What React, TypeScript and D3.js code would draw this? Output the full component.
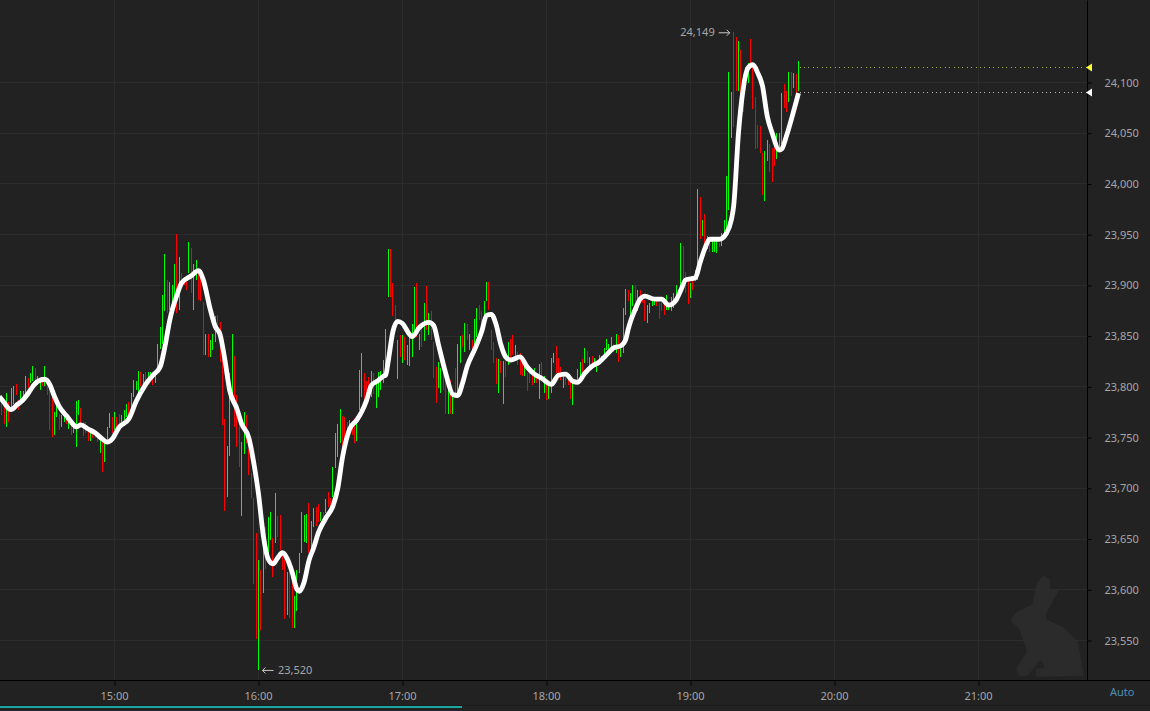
import { useEffect, useRef } from 'react';
import * as d3 from 'd3';

const width = 1150;
const height = 711;

// one bar per minute, starting at 14:12
const highs = [
  23790,23790,23785,23793,23785,23798,23800,23802,23787,23795,
  23795,23810,23808,23813,23820,23818,23810,23808,23808,23820,
  23803,23800,23796,23775,23783,23773,23772,23770,23768,23765,
  23763,23763,23786,23787,23779,23765,23765,23760,23757,23757,
  23752,23750,23749,23747,23744,23760,23774,23770,23775,23770,
  23773,23772,23777,23783,23785,23793,23806,23805,23815,23814,
  23812,23814,23814,23814,23810,23813,23842,23859,23890,23930,
  23905,23903,23900,23921,23950,23928,23912,23905,23905,23942,
  23936,23921,23925,23915,23915,23883,23852,23852,23846,23852,
  23869,23870,23863,23826,23768,23741,23813,23852,23830,23791,
  23764,23745,23775,23772,23738,23715,23690,23655,23629,23619,
  23661,23661,23671,23676,23651,23695,23672,23673,23634,23629,
  23617,23622,23606,23593,23619,23636,23676,23673,23674,23685,
  23667,23680,23681,23684,23676,23676,23689,23696,23690,23721,
  23754,23763,23778,23771,23770,23765,23767,23764,23769,23764,
  23816,23833,23813,23805,23809,23815,23813,23805,23814,23815,
  23826,23857,23935,23935,23902,23880,23846,23851,23851,23849,
  23841,23849,23861,23898,23902,23852,23862,23882,23899,23872,
  23874,23844,23819,23824,23818,23813,23810,23800,23806,23793,
  23818,23842,23850,23851,23862,23861,23852,23846,23866,23877,
  23880,23874,23884,23903,23903,23856,23844,23828,23827,23825,
  23825,23826,23844,23847,23851,23841,23834,23833,23829,23821,
  23813,23814,23814,23818,23811,23822,23824,23810,23806,23803,
  23828,23833,23840,23828,23819,23810,23811,23811,23805,23803,
  23805,23817,23824,23827,23838,23835,23829,23830,23828,23821,
  23831,23830,23838,23847,23842,23849,23842,23852,23851,23842,
  23877,23896,23895,23892,23900,23900,23895,23895,23890,23885,
  23880,23882,23888,23887,23885,23882,23885,23882,23890,23882,
  23888,23892,23900,23895,23941,23938,23913,23905,23902,23907,
  23915,23995,23987,23964,23970,23948,23946,23946,23943,23945,
  23941,23951,23964,24007,24110,24090,24149,24144,24140,24132,
  24108,24115,24119,24142,24119,24085,24058,24057,24030,24032,
  24043,24039,24035,24039,24050,24050,24089,24098,24091,24110,
  24110,24109,24108,24121,
];

const lows = [
  23780,23772,23763,23760,23765,23778,23783,23791,23777,23787,
  23787,23793,23798,23803,23805,23803,23801,23796,23800,23800,
  23791,23757,23750,23752,23770,23757,23760,23765,23763,23758,
  23752,23754,23740,23772,23760,23751,23754,23746,23746,23749,
  23749,23745,23734,23716,23725,23744,23759,23754,23757,23759,
  23760,23760,23767,23770,23772,23780,23790,23796,23793,23800,
  23800,23801,23806,23806,23801,23803,23816,23837,23842,23874,
  23872,23875,23875,23879,23872,23875,23898,23900,23895,23912,
  23892,23875,23905,23885,23884,23831,23831,23829,23829,23836,
  23844,23856,23824,23762,23677,23691,23731,23783,23760,23740,
  23721,23672,23733,23744,23713,23690,23605,23551,23520,23560,
  23596,23620,23632,23649,23612,23646,23652,23639,23619,23571,
  23575,23572,23562,23562,23579,23616,23636,23647,23646,23636,
  23639,23661,23662,23666,23667,23671,23675,23681,23683,23691,
  23720,23730,23744,23738,23750,23750,23754,23752,23744,23746,
  23777,23790,23787,23784,23794,23790,23792,23779,23790,23796,
  23803,23816,23888,23888,23869,23856,23807,23829,23823,23826,
  23821,23820,23829,23849,23849,23836,23839,23845,23856,23851,
  23846,23808,23784,23798,23793,23796,23773,23773,23773,23773,
  23790,23790,23823,23839,23834,23846,23836,23829,23842,23849,
  23865,23852,23862,23884,23875,23836,23823,23802,23793,23813,
  23783,23809,23821,23826,23831,23828,23821,23811,23810,23810,
  23795,23803,23801,23803,23803,23788,23805,23793,23787,23788,
  23793,23823,23813,23813,23806,23798,23801,23801,23788,23782,
  23803,23803,23806,23814,23823,23823,23816,23819,23821,23814,
  23821,23824,23826,23836,23834,23836,23834,23833,23824,23829,
  23833,23870,23884,23865,23879,23880,23874,23882,23882,23864,
  23862,23872,23879,23880,23879,23866,23874,23870,23875,23875,
  23874,23877,23885,23888,23899,23902,23892,23881,23887,23895,
  23904,23905,23945,23948,23938,23935,23932,23932,23932,23931,
  23937,23938,23948,23951,23974,24045,24056,24091,24091,24068,
  24070,24096,24099,24117,24073,24034,24035,24030,23989,23983,
  24022,24011,24001,24017,24024,24034,24039,24074,24070,24080,
  24086,24094,24073,24091,
];

const sides = [
  'rrrgrggrrg', 'ggrggrggrg', 'rrrggrggrg', 'rgggrrrrgr', 'rrgrgggrgr',
  'rgggrggggr', 'grggrggggg', 'rgggrgrrrg', 'rggrrrgrgg', 'grrrrgggrr',
  'rggrrrrrgr', 'grggrgrrrr', 'grrggggggr', 'ggrrgrgrrg', 'gggrrrgrrg',
  'ggrrrgrggg', 'gggrrrgrgr', 'ggggrgrgrg', 'rrrggrrgrg', 'rggrgrgrgg',
  'rrggrrrrgr', 'grgrrgrrrg', 'rrrgrgrgrg', 'ggrrrgrrrg', 'gggrgrgrgg',
  'ggggggrgrg', 'ggrggrgrrr', 'ggggrrrrgg', 'gggggrrrgr', 'ggrgrgrggg',
  'rgggggrrgr', 'rggrrrrrrg', 'grrrgggrrg', 'rgrg',
].join('');

// moving average, read at the bends of the white line (bar number, value)
const maBars = [
  0,2,4,5,7,10,12,14,16,19,21,23,25,28,31,32,34,37,40,43,45,47,50,54,57,61,64,67,69,71,
  74,76,80,83,85,88,90,92,94,96,99,101,104,106,108,110,112,114,116,118,120,122,124,125,
  127,129,131,133,136,139,141,143,146,149,151,153,155,158,160,161,162,164,166,168,171,
  172,175,179,181,183,186,189,191,193,195,198,201,203,205,207,209,211,213,217,220,223,
  226,230,233,236,239,241,244,247,250,253,256,259,261,262,263,265,267,269,273,276,279,
  282,284,286,290,292,294,296,300,303,305,306,308,310,312,314,316,318,320,322,325,326,
  328,330,333,
];

const maValues = [
  23790,23784,23778,23777,23781,23787,23793,23800,23805,23807,23802,23790,23780,23771,23762,23760,23762,23758,23754,23748,23745,23748,23760,23768,23785,23802,23811,23819,23839,23865,
  23890,23902,23909,23914,23905,23875,23859,23851,23826,23796,23778,23763,23749,23725,23694,23653,23630,23625,23631,23636,23630,23617,23600,23598,
  23607,23628,23641,23656,23670,23682,23699,23730,23758,23767,23775,23786,23801,23806,23810,23811,23824,23854,23864,23862,23851,
  23849,23858,23863,23860,23841,23813,23792,23791,23803,23820,23836,23854,23870,23871,23861,23841,23829,23826,23829,23819,23812,
  23808,23802,23811,23812,23805,23804,23813,23820,23824,23831,23838,23840,23846,23856,23864,23876,23886,23889,23886,23886,23880,
  23885,23895,23905,23907,23922,23936,23945,23945,23951,23964,23978,24050,24094,24114,24117,24109,24096,24066,24050,24033,24034,
  24047,24063,24089,
];

const priceTicks = [23550, 23600, 23650, 23700, 23750, 23800, 23850, 23900, 23950, 24000, 24050, 24100];
const hourTicks = [15, 16, 17, 18, 19, 20, 21];

const highLabel = '24,149';
const lowLabel = '23,520';
const bidPrice = 24115;
const lastPrice = 24090;
const highBar = 306;
const lowBar = 108;

const plotRight = 1087;
const plotBottom = 680;

const rabbit = 'M130,50 L147,60 L147,90 L172,93 L135,160 L135,180 L190,205 L230,245 L243,315 L247,345 L112,347 L110,330 L140,325 L122,295 L80,345 L60,345 L52,325 L85,275 L60,205 L35,182 L50,160 L100,135 L112,75 Z';

const barTime = (i: number) => new Date(Date.UTC(2024, 0, 2, 14, 12 + i));

export default function App() {
  const svgRef = useRef<SVGSVGElement>(null);

  useEffect(() => {
    if (!svgRef.current) return;
    const svg = d3.select(svgRef.current);
    svg.selectAll('*').remove();

    const font = '"Noto Sans", sans-serif';
    const labelColor = '#a6a6a6';

    const xScale = d3.scaleUtc()
      .domain([new Date(Date.UTC(2024, 0, 2, 15)), new Date(Date.UTC(2024, 0, 2, 16))])
      .range([114.5, 258.5]);

    const yScale = d3.scaleLinear()
      .domain([23550, 24100])
      .range([640, 82]);

    svg.append('rect')
      .attr('width', width)
      .attr('height', height)
      .attr('fill', '#222222');

    // rabbit watermark
    svg.append('path')
      .attr('d', rabbit)
      .attr('transform', 'translate(1000,560) scale(0.3333)')
      .attr('fill', '#2b2b2b')
      .attr('stroke', '#2b2b2b')
      .attr('stroke-width', 6)
      .attr('stroke-linejoin', 'round');

    // grid
    const hours = hourTicks.map(h => new Date(Date.UTC(2024, 0, 2, h)));
    svg.append('g')
      .selectAll('line')
      .data(priceTicks)
      .join('line')
      .attr('x1', 0)
      .attr('x2', plotRight)
      .attr('y1', d => Math.round(yScale(d)) + 0.5)
      .attr('y2', d => Math.round(yScale(d)) + 0.5)
      .attr('stroke', '#2c2c2c');

    svg.append('g')
      .selectAll('line')
      .data(hours)
      .join('line')
      .attr('x1', d => Math.floor(xScale(d)) + 0.5)
      .attr('x2', d => Math.floor(xScale(d)) + 0.5)
      .attr('y1', 0)
      .attr('y2', plotBottom)
      .attr('stroke', '#2c2c2c');

    // bars
    svg.append('g')
      .attr('shape-rendering', 'crispEdges')
      .selectAll('line')
      .data(highs)
      .join('line')
      .attr('x1', (_, i) => Math.floor(xScale(barTime(i))) + 0.5)
      .attr('x2', (_, i) => Math.floor(xScale(barTime(i))) + 0.5)
      .attr('y1', d => yScale(d))
      .attr('y2', (_, i) => yScale(lows[i]))
      .attr('stroke', (_, i) => sides[i] === 'g' ? '#00ff00' : '#ff0000')
      .attr('stroke-width', 1);

    // moving average
    const maLine = d3.line<number>()
      .x(d => xScale(barTime(d)))
      .y((_, i) => yScale(maValues[i]))
      .curve(d3.curveMonotoneX);

    svg.append('path')
      .attr('d', maLine(maBars))
      .attr('fill', 'none')
      .attr('stroke', '#ffffff')
      .attr('stroke-width', 4.8)
      .attr('stroke-linejoin', 'round');

    // axes
    const xAxis = d3.axisBottom(xScale)
      .tickValues(hours)
      .tickSize(5)
      .tickPadding(7)
      .tickFormat(d => d3.utcFormat('%H:%M')(d as Date));

    svg.append('g')
      .attr('transform', `translate(0,${plotBottom + 0.5})`)
      .call(xAxis)
      .call(g => g.select('.domain').attr('d', `M0,0H${width}`).attr('stroke', '#000'))
      .call(g => g.selectAll('.tick line').attr('stroke', '#000'))
      .call(g => g.selectAll('.tick text')
        .attr('dx', -0.5)
        .attr('fill', labelColor)
        .attr('font-family', font)
        .attr('font-size', '11px'));

    const yAxis = d3.axisRight(yScale)
      .tickValues(priceTicks)
      .tickSize(4)
      .tickPadding(13)
      .tickFormat(d3.format(','));

    svg.append('g')
      .attr('transform', `translate(${plotRight + 0.5},0.5)`)
      .call(yAxis)
      .call(g => g.select('.domain').attr('d', `M0,0V${plotBottom}`).attr('stroke', '#000'))
      .call(g => g.selectAll('.tick line').attr('stroke', '#000'))
      .call(g => g.selectAll('.tick text')
        .attr('fill', labelColor)
        .attr('font-family', font)
        .attr('font-size', '11px'));

    // price levels
    const lastX = xScale(barTime(highs.length - 1));
    const levels = [
      { price: bidPrice, fill: '#ffff33', dash: '#a9a94e' },
      { price: lastPrice, fill: '#ffffff', dash: '#b4b4b4' },
    ];
    levels.forEach(level => {
      const y = Math.round(yScale(level.price)) + 0.5;
      svg.append('line')
        .attr('x1', lastX + 1)
        .attr('x2', plotRight)
        .attr('y1', y)
        .attr('y2', y)
        .attr('stroke', level.dash)
        .attr('stroke-dasharray', '1,3.4')
        .attr('shape-rendering', 'crispEdges');
      svg.append('path')
        .attr('d', `M${plotRight + 5},${y - 4} L${plotRight + 5},${y + 4} L${plotRight - 1},${y} Z`)
        .attr('fill', level.fill);
    });

    // high / low markers
    const highX = xScale(barTime(highBar));
    const highY = yScale(highs[highBar]);
    svg.append('text')
      .attr('x', highX - 19)
      .attr('y', highY + 4)
      .attr('text-anchor', 'end')
      .attr('fill', labelColor)
      .attr('font-family', font)
      .attr('font-size', '11px')
      .text(highLabel);
    svg.append('path')
      .attr('d', `M${highX - 15},${highY + 0.5} h11 m-3,-3 l3,3 l-3,3`)
      .attr('fill', 'none')
      .attr('stroke', '#c8c8c8');

    const lowX = xScale(barTime(lowBar));
    const lowY = yScale(lows[lowBar]);
    svg.append('text')
      .attr('x', lowX + 19.5)
      .attr('y', lowY + 4)
      .attr('fill', labelColor)
      .attr('font-family', font)
      .attr('font-size', '11px')
      .text(lowLabel);
    svg.append('path')
      .attr('d', `M${lowX + 15},${lowY} h-11 m3,-3 l-3,3 l3,3`)
      .attr('fill', 'none')
      .attr('stroke', '#c8c8c8');

    // footer
    svg.append('text')
      .attr('x', 1110)
      .attr('y', 696)
      .attr('fill', '#4f8fb3')
      .attr('font-family', font)
      .attr('font-size', '11px')
      .text('Auto');

    svg.append('line')
      .attr('x1', 0)
      .attr('x2', width)
      .attr('y1', 705.5)
      .attr('y2', 705.5)
      .attr('stroke', '#1a1a1a');

    svg.append('rect')
      .attr('x', 0)
      .attr('y', 706)
      .attr('width', 462)
      .attr('height', 2)
      .attr('fill', '#19a79f');
  }, []);

  return (
    <svg
      ref={svgRef}
      width={width}
      height={height}
      style={{ position: 'absolute', left: 0, top: 0, display: 'block' }}
    />
  );
}
